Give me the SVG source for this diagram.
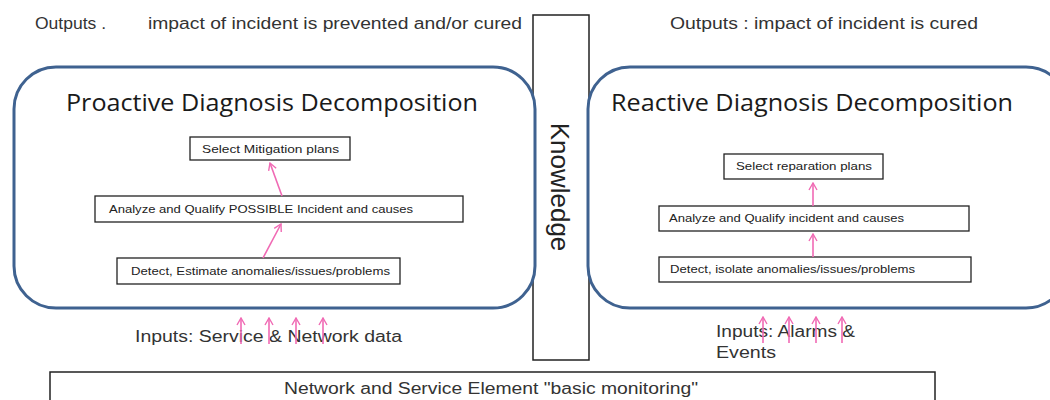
<svg xmlns="http://www.w3.org/2000/svg" width="1050" height="400" viewBox="0 0 1050 400">
<defs>
<marker id="ah" viewBox="0 0 10 10" refX="9" refY="5" markerWidth="10" markerHeight="10" markerUnits="userSpaceOnUse" orient="auto">
<path d="M2,1 L9,5 L2,9" fill="none" stroke="#f06ab4" stroke-width="1.4"/>
</marker>
</defs>
<style>
.panel{fill:#fff;stroke:#3f6290;stroke-width:3}
.box{fill:#fff;stroke:#222;stroke-width:1.3}
.t{font-family:"Liberation Sans",Arial,sans-serif;fill:#222}
.small{font-size:11px}
.mid{font-size:16px;fill:#333}
.title{font-family:"Open Sans","Noto Sans",sans-serif;font-size:23px;fill:#1a1a1a}
.arr{stroke:#f06ab4;stroke-width:1.6;fill:none;marker-end:url(#ah)}
</style>
<rect width="1050" height="400" fill="#fff"/>
<g id="outputs-left"><text class="t mid" x="35" y="29" textLength="71" lengthAdjust="spacingAndGlyphs">Outputs .</text><text class="t mid" x="148" y="29" textLength="374" lengthAdjust="spacingAndGlyphs">impact of incident is prevented and/or cured</text></g>
<g id="outputs-right"><text class="t mid" x="670" y="29" textLength="308" lengthAdjust="spacingAndGlyphs">Outputs : impact of incident is cured</text></g>
<g id="knowledge"><rect x="533" y="15" width="56" height="345" fill="#fff" stroke="#222" stroke-width="1.5"/><text class="t" font-size="26" transform="translate(551,187) rotate(90)" text-anchor="middle">Knowledge</text></g>
<g id="proactive"><rect class="panel" x="14" y="67" width="521" height="241" rx="42"/><text class="title" x="66" y="111" textLength="412" lengthAdjust="spacingAndGlyphs">Proactive Diagnosis Decomposition</text></g>
<g id="reactive"><rect class="panel" x="588" y="67" width="480" height="241" rx="42"/><text class="title" x="611" y="111" textLength="402" lengthAdjust="spacingAndGlyphs">Reactive Diagnosis Decomposition</text></g>
<g id="p-select"><rect class="box" x="190" y="137" width="160" height="23"/><text class="t small" x="202" y="153" textLength="137" lengthAdjust="spacingAndGlyphs">Select  Mitigation plans</text></g>
<g id="p-analyze"><rect class="box" x="95" y="196" width="368" height="26"/><text class="t small" x="109" y="213" textLength="304" lengthAdjust="spacingAndGlyphs">Analyze and Qualify POSSIBLE Incident and causes</text></g>
<g id="p-detect"><rect class="box" x="117" y="258" width="283" height="26"/><text class="t small" x="131" y="275" textLength="259" lengthAdjust="spacingAndGlyphs">Detect, Estimate anomalies/issues/problems</text></g>
<g id="r-select"><rect class="box" x="724" y="154" width="159" height="25"/><text class="t small" x="736" y="170" textLength="136" lengthAdjust="spacingAndGlyphs">Select reparation plans</text></g>
<g id="r-analyze"><rect class="box" x="659" y="206" width="310" height="25"/><text class="t small" x="669" y="222" textLength="235" lengthAdjust="spacingAndGlyphs">Analyze and Qualify incident and causes</text></g>
<g id="r-detect"><rect class="box" x="659" y="257" width="312" height="25"/><text class="t small" x="670" y="273" textLength="245" lengthAdjust="spacingAndGlyphs">Detect, isolate anomalies/issues/problems</text></g>
<g id="inputs-left"><text class="t mid" x="135" y="342" textLength="267" lengthAdjust="spacingAndGlyphs">Inputs: Service &amp; Network data</text></g>
<g id="inputs-right"><text class="t mid" x="716" y="337" textLength="139" lengthAdjust="spacingAndGlyphs">Inputs: Alarms &amp;</text><text class="t mid" x="716" y="358" textLength="60" lengthAdjust="spacingAndGlyphs">Events</text></g>
<g id="monitoring"><rect x="50" y="372" width="885" height="40" fill="#fff" stroke="#222" stroke-width="1.5"/><text class="t mid" x="491" y="394" text-anchor="middle" textLength="414" lengthAdjust="spacingAndGlyphs">Network and Service Element "basic monitoring"</text></g>
<g id="connectors">
<line class="arr" x1="263" y1="258" x2="281" y2="224"/>
<line class="arr" x1="282" y1="196" x2="270" y2="163"/>
<line class="arr" x1="813" y1="206" x2="813" y2="183"/>
<line class="arr" x1="813" y1="257" x2="813" y2="234"/>
<line class="arr" x1="241" y1="344" x2="241" y2="318"/>
<line class="arr" x1="269" y1="344" x2="269" y2="318"/>
<line class="arr" x1="296" y1="344" x2="296" y2="318"/>
<line class="arr" x1="323" y1="344" x2="323" y2="318"/>
<line class="arr" x1="763" y1="343" x2="763" y2="317"/>
<line class="arr" x1="789" y1="343" x2="789" y2="317"/>
<line class="arr" x1="816" y1="343" x2="816" y2="317"/>
<line class="arr" x1="842" y1="343" x2="842" y2="317"/>
</g>
</svg>
